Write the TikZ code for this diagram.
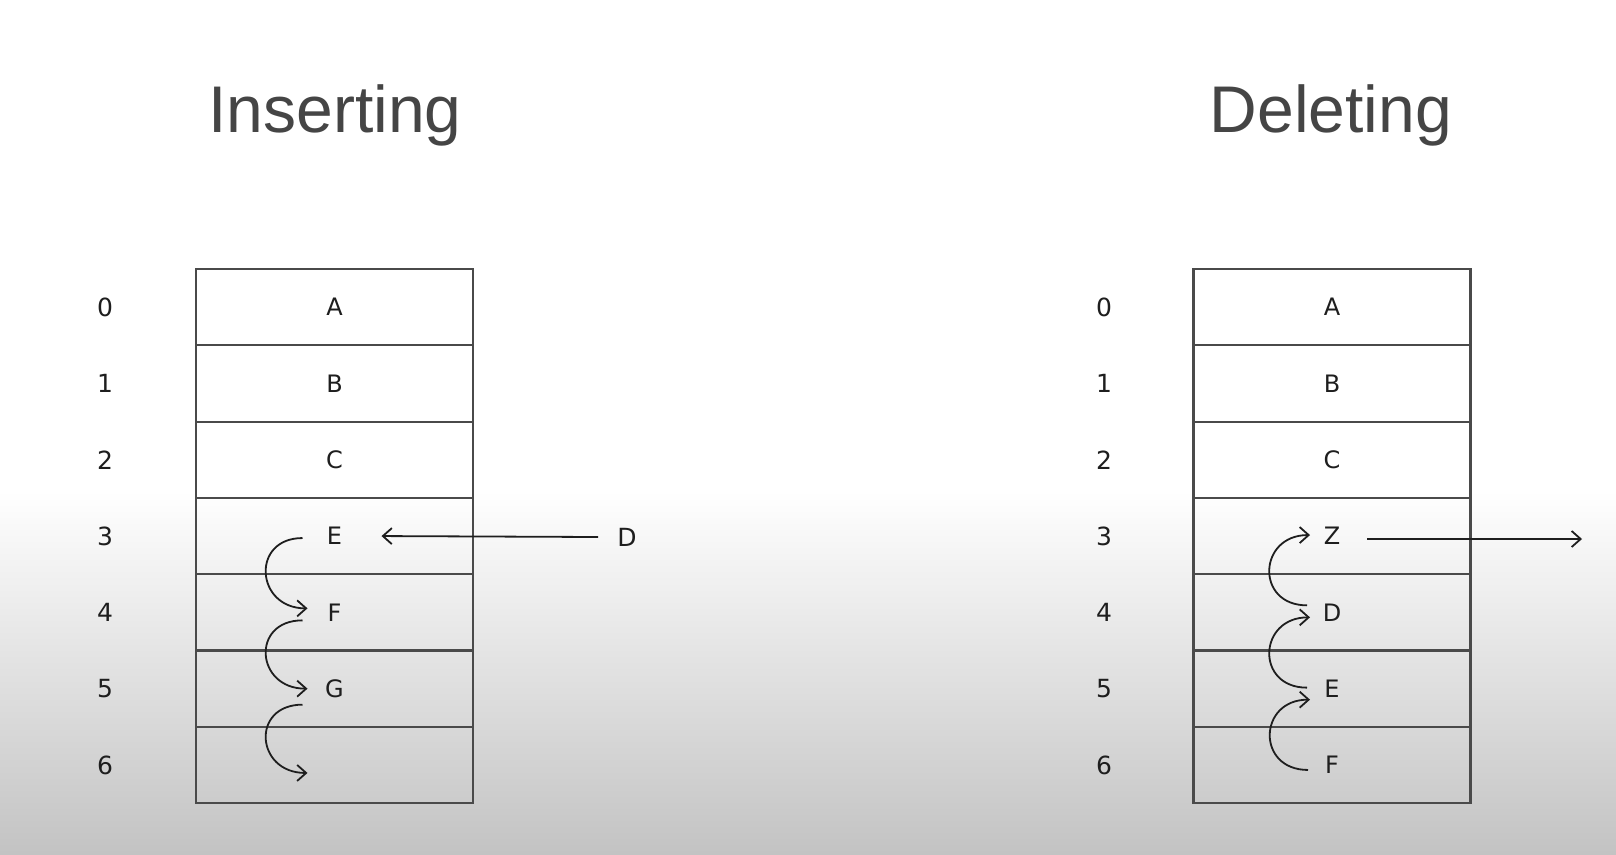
\documentclass[tikz,border=0pt]{standalone}
\usepackage{fontspec}
\setmainfont{Liberation Sans}
\newfontfamily\dejavu{DejaVu Sans}
\usetikzlibrary{arrows.meta}
\definecolor{bggray}{HTML}{C3C3C3}
\definecolor{titlegray}{HTML}{454545}
\definecolor{linegray}{HTML}{4A4A4A}
\definecolor{ink}{HTML}{1E1E1E}
\tikzset{
  cell/.style={draw=linegray, line width=2.2pt, minimum width=277pt, minimum height=76.3pt, inner sep=0pt,
    text=ink, font=\dejavu\fontsize{24}{28}\selectfont},
  idx/.style={text=ink, inner sep=0pt, font=\dejavu\fontsize{25}{29}\selectfont},
  title/.style={text=titlegray, anchor=base, inner sep=0pt, font=\fontsize{66}{79}\selectfont},
  conn/.style={draw=ink, line width=1.8pt, -{Straight Barb[length=9pt,width=16pt,line width=1.8pt]}},
}
\begin{document}
\begin{tikzpicture}[x=1pt,y=-1pt]
\useasboundingbox (0,0) rectangle (1616,854);
\fill[white] (0,0) rectangle (1616,491);
\shade[top color=white, bottom color=bggray] (0,490) rectangle (1616,854);
% titles
\node[title] (tI) at (335,132) {Inserting};
\node[title] (tD) at (1331,132) {Deleting};
% left table
\foreach \i/\t in {0/A,1/B,2/C,3/E,4/F,5/G,6/{}} {
  \node[cell] (L\i) at (334.5,{269+76.3*(\i+0.5)}) {\t};
  \node[idx] (LN\i) at (105,{269+76.3*(\i+0.5)}) {\i};
}
% right table
\foreach \i/\t in {0/A,1/B,2/C,3/Z,4/D,5/E,6/F} {
  \node[cell] (R\i) at (1332,{269+76.3*(\i+0.5)}) {\t};
  \node[idx] (RN\i) at (1104,{269+76.3*(\i+0.5)}) {\i};
}
% inserting: D comes in
\node[text=ink, inner sep=0pt, font=\dejavu\fontsize{25}{29}\selectfont] (Din) at (627,537) {D};
\draw[conn] ([xshift=-29pt]Din.center) -- ([xshift=47pt]L3.center);
\draw[conn] ([shift={(-32,2)}]L3.center) .. controls +(-52,0) and +(-52,0) .. ([shift={(-27,-4)}]L4.center);
\draw[conn] ([shift={(-32,8)}]L4.center) .. controls +(-52,0) and +(-52,0) .. ([shift={(-27,0)}]L5.center);
\draw[conn] ([shift={(-32,16)}]L5.center) .. controls +(-52,0) and +(-52,0) .. ([shift={(-27,8)}]L6.center);
% deleting: Z goes out
\coordinate (Zout) at (1582,539);
\draw[conn] ([shift={(35,3)}]R3.center) -- (Zout);
\draw[conn] ([shift={(-25,-7)}]R4.center) .. controls +(-52,0) and +(-52,0) .. ([shift={(-22,-1)}]R3.center);
\draw[conn] ([shift={(-25,-1)}]R5.center) .. controls +(-52,0) and +(-52,0) .. ([shift={(-22,5)}]R4.center);
\draw[conn] ([shift={(-24,5)}]R6.center) .. controls +(-52,0) and +(-52,0) .. ([shift={(-22,11)}]R5.center);
\end{tikzpicture}
\end{document}
